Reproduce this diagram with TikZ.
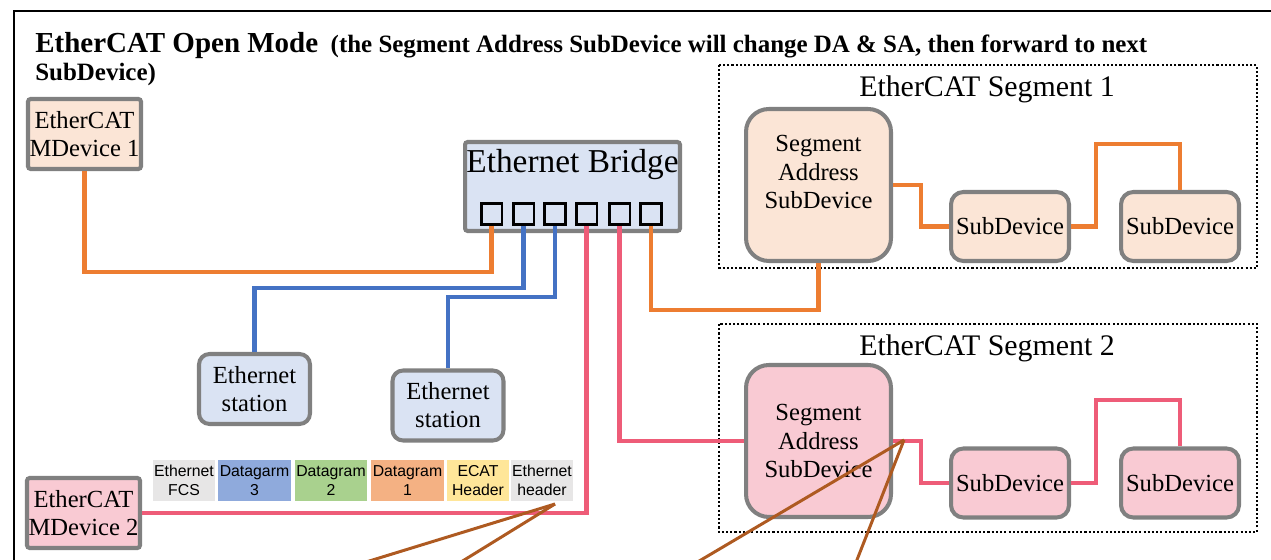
\documentclass[tikz,border=0pt]{standalone}
\usepackage{fontspec}
\setmainfont{Liberation Serif}
\newfontfamily\fieldfont{Liberation Sans}

\definecolor{peach}{HTML}{FBE5D6}
\definecolor{rosefill}{HTML}{F9CAD3}
\definecolor{paleblue}{HTML}{DAE3F3}
\definecolor{boxgray}{HTML}{808080}
\definecolor{linkorange}{HTML}{ED7D31}
\definecolor{linkblue}{HTML}{4472C4}
\definecolor{linkpink}{HTML}{EE5C78}
\definecolor{leaderbrown}{HTML}{AE5A21}
\definecolor{fcsgray}{HTML}{E7E6E6}
\definecolor{dgblue}{HTML}{8FAADC}
\definecolor{dggreen}{HTML}{A9D18E}
\definecolor{dgsalmon}{HTML}{F4B183}
\definecolor{hdryellow}{HTML}{FFE699}

\tikzset{
  devbox/.style={draw=boxgray, line width=2.3pt, align=center, inner sep=0pt,
    font=\fontsize{14}{16}\selectfont},
  mdbox/.style={devbox, rounded corners=1.5pt, minimum width=2.26cm, minimum height=1.40cm},
  stationbox/.style={devbox, fill=paleblue, rounded corners=6pt, minimum width=2.22cm, minimum height=1.40cm},
  sasbox/.style={devbox, rounded corners=13pt, minimum width=2.90cm, minimum height=3.04cm},
  subbox/.style={devbox, rounded corners=7pt, minimum width=2.36cm, minimum height=1.38cm},
  portbox/.style={draw=black, line width=1.7pt, minimum size=0.42cm, inner sep=0pt},
  field/.style={align=center, inner sep=0pt, minimum height=0.82cm,
    font=\fieldfont\fontsize{9}{10.8}\selectfont},
  link/.style={line width=2.3pt},
  leader/.style={draw=leaderbrown, line width=1.7pt},
  segline/.style={line width=1.2pt, dash pattern=on 1.2pt off 1.2pt},
  seglabel/.style={font=\fontsize{17}{20}\selectfont}
}

\begin{document}
\begin{tikzpicture}[x=0.02cm, y=-0.02cm]
\useasboundingbox (0,0) rectangle (1271,560);
\clip (0,0) rectangle (1271,560);
\draw[line width=1.3pt] (14,11) rectangle (1300,600);

\node[anchor=north west, align=left, inner sep=0pt, font=\bfseries\fontsize{14.2}{16.2}\selectfont] (title) at (35,32)
  {{\fontsize{16.5}{16}\selectfont EtherCAT Open Mode}\ \ (the Segment Address SubDevice will change DA \& SA, then forward to next\\SubDevice)};

% segments
\draw[segline] (719,65) rectangle (1257,268);
\node[seglabel] (seg1) at (987,89) {EtherCAT Segment 1};
\draw[segline] (719,324) rectangle (1257,532);
\node[seglabel] (seg2) at (987,348) {EtherCAT Segment 2};

% main devices
\node[mdbox, fill=peach] (md1) at (84.5,134) {EtherCAT\\MDevice 1};
\node[mdbox, fill=rosefill] (md2) at (83.5,513) {EtherCAT\\MDevice 2};

% bridge
\node[devbox, fill=paleblue, rounded corners=1.5pt, minimum width=4.30cm, minimum height=1.78cm,
  label={[anchor=north, inner sep=5pt, font=\fontsize{19}{22}\selectfont]north:Ethernet Bridge}] (bridge) at (572.5,186.5) {};
\node[portbox] (p1) at (491.5,214) {};
\node[portbox] (p2) at (523.5,214) {};
\node[portbox] (p3) at (555,214) {};
\node[portbox] (p4) at (586.5,214) {};
\node[portbox] (p5) at (619.5,214) {};
\node[portbox] (p6) at (651,214) {};

\node[stationbox] (st1) at (254.5,389) {Ethernet\\station};
\node[stationbox] (st2) at (448,405.5) {Ethernet\\station};

% segment 1
\node[sasbox, fill=peach, label={[yshift=7.4pt, align=center, font=\fontsize{14}{16}\selectfont]center:Segment\\Address\\SubDevice}] (sas1) at (818.5,185) {};
\node[subbox, fill=peach] (sd1a) at (1010,226.5) {SubDevice};
\node[subbox, fill=peach] (sd1b) at (1180,226.5) {SubDevice};

% segment 2
\node[sasbox, fill=rosefill] (sas2) at (818.5,441) {Segment\\Address\\SubDevice};
\node[subbox, fill=rosefill] (sd2a) at (1010,483) {SubDevice};
\node[subbox, fill=rosefill] (sd2b) at (1180,483) {SubDevice};

% frame fields
\node[field, fill=fcsgray, minimum width=1.24cm] (fcs) at (184,480.5) {Ethernet\\FCS};
\node[field, fill=dgblue, minimum width=1.46cm] (dg3) at (254.5,480.5) {Datagarm\\3};
\node[field, fill=dggreen, minimum width=1.46cm] (dg2) at (331,480.5) {Datagram\\2};
\node[field, fill=dgsalmon, minimum width=1.46cm] (dg1) at (407.5,480.5) {Datagram\\1};
\node[field, fill=hdryellow, minimum width=1.24cm] (ecat) at (478,480.5) {ECAT\\Header};
\node[field, fill=fcsgray, minimum width=1.24cm] (ethhdr) at (542,480.5) {Ethernet\\header};

% links
\draw[link, linkorange] (p1.south) -- ++(0,46) -| (md1.south);
\draw[link, linkblue] (p2.south) -- ++(0,62) -| (st1.north);
\draw[link, linkblue] (p3.south) -- ++(0,71) -| (st2.north);
\draw[link, linkpink] (p4.south) |- (md2.east);
\draw[link, linkpink] (p5.south) |- (sas2.west);
\draw[link, linkorange] (p6.south) -- ++(0,84) -| (sas1.south);

\draw[link, linkorange] (sas1.east) -- ++(28,0) |- (sd1a.west);
\draw[link, linkorange] (sd1a.east) -- ++(25,0) -- ++(0,-82.5) -| (sd1b.north);
\draw[link, linkpink] (sas2.east) -- ++(28,0) |- (sd2a.west);
\draw[link, linkpink] (sd2a.east) -- ++(25,0) -- ++(0,-83) -| (sd2b.north);

% leaders
\coordinate (hdrtip) at (555,504);
\coordinate (sastip) at (904,440);
\coordinate (lead1) at (340,570);
\coordinate (lead2) at (448,570);
\coordinate (lead3) at (684,570);
\coordinate (lead4) at (853,570);
\draw[leader] (hdrtip) -- (lead1);
\draw[leader] (hdrtip) -- (lead2);
\draw[leader] (sastip) -- (lead3);
\draw[leader] (sastip) -- (lead4);

\end{tikzpicture}
\end{document}
